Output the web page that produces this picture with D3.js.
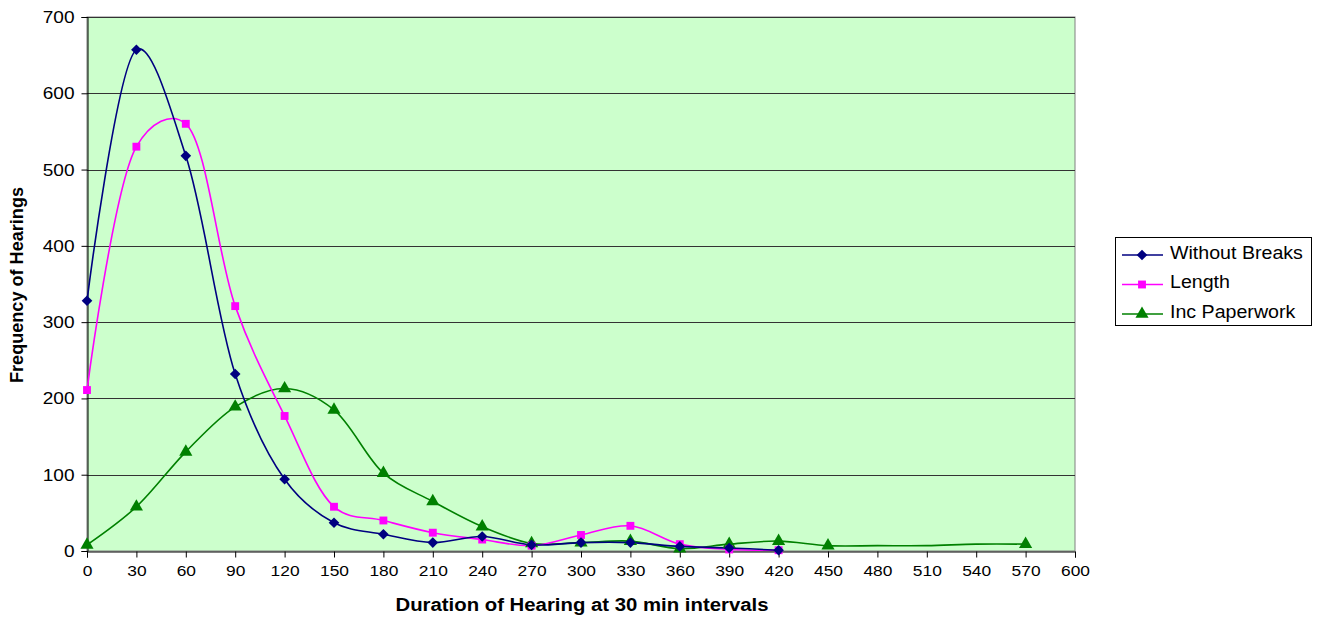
<!DOCTYPE html>
<html><head><meta charset="utf-8">
<script src="https://cdn.jsdelivr.net/npm/d3@7"></script>
<style>body{margin:0;background:#fff;}svg{display:block;font-family:"Liberation Sans",Arial,sans-serif;}</style>
</head><body>
<svg id="chart" width="1324" height="617"></svg>
<script>
const xTicks = [0,30,60,90,120,150,180,210,240,270,300,330,360,390,420,450,480,510,540,570,600];
const yTicks = [0,100,200,300,400,500,600,700];
const xWithout = [0,30,60,90,120,150,180,210,240,270,300,330,360,390,420];
const withoutBreaks = [328,657,518,232,94,37,22,11,19,8,11,11,6,4,1];
const xLength = [0,30,60,90,120,150,180,210,240,270,300,330,360,390,420];
const lengthVals = [211,530,560,321,177,58,40,24,15,7,21,33,9,2,1];
const xPaper = [0,30,60,90,120,150,180,210,240,270,300,330,360,390,420,450,480,510,540,570];
const paperwork = [8,58,130,189,213,185,102,65,32,10,11,13,3,9,13,7,7,7,9,9];
const paperMarkerHidden = [480,510,540];
const seriesNames = ["Without Breaks","Length","Inc Paperwork"];

const svg = d3.select("#chart");
const L=87, R=1075, T=17, B=551;
const x = d3.scaleLinear().domain([0,600]).range([L,R]);
const y = d3.scaleLinear().domain([0,700]).range([B,T]);
const WIDEN = 1.12;
function widen(sel, f){ sel.each(function(){ const w=this.getComputedTextLength(); d3.select(this).attr("textLength", w*(f||WIDEN)).attr("lengthAdjust","spacingAndGlyphs"); }); }

svg.append("rect").attr("x",L).attr("y",T).attr("width",R-L).attr("height",B-T)
  .attr("fill","#CCFFCC").attr("stroke","#808080").attr("stroke-width",1);

svg.append("g").selectAll("line").data(yTicks.filter(d=>d>0)).join("line")
  .attr("x1",L).attr("x2",R).attr("y1",d=>Math.round(y(d))+0.5).attr("y2",d=>Math.round(y(d))+0.5)
  .attr("stroke","#333").attr("stroke-width",1);

const yAxis = svg.append("g").attr("transform",`translate(${L+0.5},0)`)
  .call(d3.axisLeft(y).tickValues(yTicks).tickSize(6).tickPadding(7));
const xAxis = svg.append("g").attr("transform",`translate(0,${B+0.5})`)
  .call(d3.axisBottom(x).tickValues(xTicks).tickSize(6).tickPadding(7));
[yAxis,xAxis].forEach(g=>{
  g.select(".domain").attr("stroke","#000");
  g.selectAll(".tick line").attr("stroke","#000");
  g.selectAll("text").attr("fill","#000").attr("font-family","Liberation Sans, Arial, sans-serif");
});
yAxis.selectAll("text").attr("font-size",17);
xAxis.selectAll("text").attr("font-size",15.5);
widen(yAxis.selectAll("text"));
widen(xAxis.selectAll("text"));

const xt = svg.append("text").attr("x",582).attr("y",611).attr("text-anchor","middle")
  .attr("font-size",18).attr("font-weight","bold").text("Duration of Hearing at 30 min intervals");
xt.attr("textLength",373).attr("lengthAdjust","spacingAndGlyphs");
const yt = svg.append("text").attr("transform","translate(23,285) rotate(-90)").attr("text-anchor","middle")
  .attr("font-size",17.5).attr("font-weight","bold").text("Frequency of Hearings");
yt.attr("textLength",196).attr("lengthAdjust","spacingAndGlyphs");

const line = d3.line().x(d=>x(d[0])).y(d=>y(d[1])).curve(d3.curveCatmullRom.alpha(0.3));
const series = [
  {name:seriesNames[0], xs:xWithout, ys:withoutBreaks, color:"#000080", sym:d3.symbolDiamond2, size:72},
  {name:seriesNames[1], xs:xLength, ys:lengthVals, color:"#FF00FF", sym:d3.symbolSquare, size:62},
  {name:seriesNames[2], xs:xPaper, ys:paperwork, color:"#008000", sym:d3.symbolTriangle, size:75}
];
const order = [2,1,0];
order.forEach(i=>{
  const s = series[i];
  const pts = s.xs.map((v,j)=>[v,s.ys[j]]);
  svg.append("path").attr("d",line(pts)).attr("fill","none").attr("stroke",s.color).attr("stroke-width",1.6);
});
order.forEach(i=>{
  const s = series[i];
  const pts = s.xs.map((v,j)=>[v,s.ys[j]]).filter(p=> !(i===2 && paperMarkerHidden.includes(p[0])));
  svg.append("g").selectAll("path").data(pts).join("path")
    .attr("d",d3.symbol().type(s.sym).size(s.size))
    .attr("transform",d=>`translate(${x(d[0])},${y(d[1])})`)
    .attr("fill",s.color);
});

const lg = svg.append("g");
lg.append("rect").attr("x",1115.5).attr("y",237.5).attr("width",196).attr("height",88)
  .attr("fill","#fff").attr("stroke","#000").attr("stroke-width",1);
series.forEach((s,i)=>{
  const yy = 255 + i*29.5;
  lg.append("line").attr("x1",1122).attr("x2",1163).attr("y1",yy).attr("y2",yy)
    .attr("stroke",s.color).attr("stroke-width",1.6);
  lg.append("path").attr("d",d3.symbol().type(s.sym).size(s.size))
    .attr("transform",`translate(1142,${yy})`).attr("fill",s.color);
  const t = lg.append("text").attr("x",1170).attr("y",yy+3.5).attr("font-size",17.5).text(s.name);
  widen(t);
});
</script>
</body></html>
